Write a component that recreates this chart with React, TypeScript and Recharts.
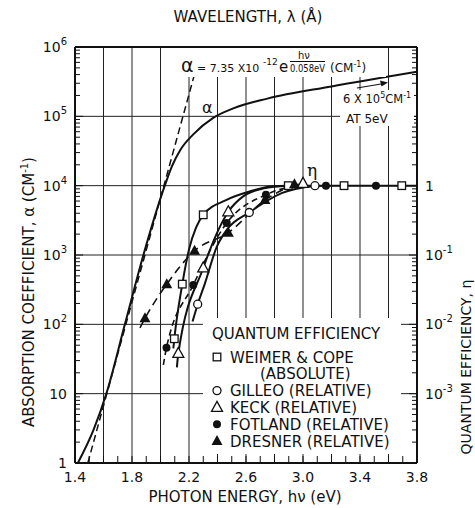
import React from 'react'
import { ComposedChart, Line, Scatter, XAxis, YAxis, ReferenceLine, Legend } from 'recharts'

const W = 475
const H = 508
const FONT = '"DejaVu Sans", sans-serif'
const INK = '#111'

// axis ticks
const energyLabels = [1.4, 1.8, 2.2, 2.6, 3.0, 3.4, 3.8]
const energyMinor = [
  1.4, 1.5, 1.6, 1.7, 1.8, 1.9, 2.0, 2.1, 2.2, 2.3, 2.4, 2.5, 2.6,
  2.7, 2.8, 2.9, 3.0, 3.1, 3.2, 3.3, 3.4, 3.5, 3.6, 3.7, 3.8,
]
const energyGrid = [1.6, 1.8, 2.0, 2.2, 2.4, 2.6, 2.8, 3.0, 3.2, 3.4, 3.6]
const wavelengths = [8000, 6000, 5000, 4000]
const alphaDecades = [1, 10, 100, 1e3, 1e4, 1e5, 1e6]
const alphaGrid = [10, 100, 1e3, 1e4, 1e5]
const etaDecades = [1e-4, 1e-3, 1e-2, 1e-1, 1, 10, 100]
const mantissas = [1, 2, 3, 4, 5, 6, 7, 8, 9]

// absorption coefficient (cm^-1) vs photon energy (eV)
const alphaCurve = [
  { x: 1.42, y: 1 }, { x: 1.53, y: 3 }, { x: 1.62, y: 10 }, { x: 1.75, y: 100 },
  { x: 1.88, y: 1000 }, { x: 2.03, y: 1e4 }, { x: 2.08, y: 1.9e4 }, { x: 2.14, y: 3.3e4 },
  { x: 2.23, y: 5.5e4 }, { x: 2.37, y: 9.5e4 }, { x: 2.51, y: 1.3e5 }, { x: 2.75, y: 1.8e5 },
  { x: 3.2, y: 2.7e5 }, { x: 3.8, y: 4.4e5 },
]
const alphaFit = [{ x: 1.49, y: 1 }, { x: 2.235, y: 3.8e5 }]

// quantum efficiency, measured points and drawn curves
const weimerPts = [
  { x: 2.097, y: 0.0062 }, { x: 2.153, y: 0.038 }, { x: 2.3, y: 0.38 },
  { x: 2.897, y: 1 }, { x: 3.288, y: 1 }, { x: 3.693, y: 1 },
]
const weimerCurve = [
  { x: 2.09, y: 0.0045 }, { x: 2.097, y: 0.0062 }, { x: 2.153, y: 0.038 }, { x: 2.2, y: 0.12 },
  { x: 2.25, y: 0.25 }, { x: 2.3, y: 0.38 }, { x: 2.46, y: 0.62 }, { x: 2.63, y: 0.83 },
  { x: 2.77, y: 0.97 }, { x: 2.897, y: 1 }, { x: 3.288, y: 1 }, { x: 3.693, y: 1 }, { x: 3.8, y: 1 },
]
const gilleoPts = [{ x: 2.261, y: 0.0195 }, { x: 2.623, y: 0.41 }, { x: 3.084, y: 1 }]
const gilleoCurve = [
  { x: 2.225, y: 0.011 }, { x: 2.261, y: 0.0195 }, { x: 2.312, y: 0.039 }, { x: 2.394, y: 0.13 },
  { x: 2.465, y: 0.23 }, { x: 2.623, y: 0.41 }, { x: 2.85, y: 0.78 }, { x: 3.084, y: 1 },
]
const keckPts = [{ x: 2.125, y: 0.0038 }, { x: 2.3, y: 0.065 }, { x: 2.476, y: 0.42 }, { x: 3.0, y: 1.08 }]
const keckCurve = [
  { x: 2.115, y: 0.0024 }, { x: 2.125, y: 0.0038 }, { x: 2.3, y: 0.065 }, { x: 2.476, y: 0.42 },
  { x: 2.58, y: 0.7 }, { x: 2.7, y: 0.89 }, { x: 2.886, y: 1 }, { x: 3.0, y: 1.05 },
]
const fotlandPts = [
  { x: 2.042, y: 0.0046 }, { x: 2.23, y: 0.037 }, { x: 2.465, y: 0.29 },
  { x: 2.74, y: 0.74 }, { x: 3.161, y: 1 }, { x: 3.512, y: 1 },
]
const fotlandCurve = [
  { x: 2.02, y: 0.0026 }, { x: 2.042, y: 0.0046 }, { x: 2.23, y: 0.037 }, { x: 2.465, y: 0.29 },
  { x: 2.74, y: 0.74 }, { x: 2.95, y: 0.97 }, { x: 3.161, y: 1 },
]
const dresnerPts = [
  { x: 1.891, y: 0.0122 }, { x: 2.044, y: 0.038 }, { x: 2.239, y: 0.115 },
  { x: 2.476, y: 0.21 }, { x: 2.733, y: 0.62 }, { x: 2.94, y: 1.05 },
]
const dresnerCurve = [{ x: 1.856, y: 0.0089 }, ...dresnerPts]

const isDecade = (v: number) => Math.abs(Math.log10(v) - Math.round(Math.log10(v))) < 1e-6
const logTicks = (decades: number[]) =>
  decades.flatMap((d, i) => (i === decades.length - 1 ? [d] : mantissas.map(m => m * d)))

function PowText({ x, y, exp, anchor }: { x: number; y: number; exp: number; anchor: 'start' | 'end' }) {
  return (
    <text x={x} y={y + 5} textAnchor={anchor} fontSize={14} fontFamily={FONT} fill={INK}>
      {exp === 0 ? '1' : exp === 1 ? '10' : (
        <>
          10<tspan dy={-7} fontSize={10}>{exp < 0 ? `-${-exp}` : exp}</tspan>
        </>
      )}
    </text>
  )
}

const LeftTick = (p: any) => {
  const v = p.payload.value
  const major = isDecade(v)
  return (
    <g>
      <line x1={p.x} x2={p.x + (major ? 8 : 5)} y1={p.y} y2={p.y} stroke={INK} />
      {major && <PowText x={p.x - 8} y={p.y} exp={Math.round(Math.log10(v))} anchor="end" />}
    </g>
  )
}

const RightTick = (p: any) => {
  const v = p.payload.value
  const major = isDecade(v)
  const exp = Math.round(Math.log10(v))
  return (
    <g>
      <line x1={p.x} x2={p.x - (major ? 8 : 5)} y1={p.y} y2={p.y} stroke={INK} />
      {major && exp >= -3 && exp <= 0 && <PowText x={p.x + 8} y={p.y} exp={exp} anchor="start" />}
    </g>
  )
}

const BottomTick = (p: any) => {
  const v = p.payload.value
  const labeled = energyLabels.some(l => Math.abs(l - v) < 1e-6)
  return (
    <g>
      <line x1={p.x} x2={p.x} y1={p.y} y2={p.y - 7} stroke={INK} />
      {labeled && (
        <text x={p.x} y={p.y + 19} textAnchor="middle" fontSize={14} fontFamily={FONT} fill={INK}>
          {v.toFixed(1)}
        </text>
      )}
    </g>
  )
}

const TopTick = (p: any) => (
  <g>
    <line x1={p.x} x2={p.x} y1={p.y} y2={p.y + 7} stroke={INK} />
    <text x={p.x} y={p.y - 8} textAnchor="middle" fontSize={14} fontFamily={FONT} fill={INK}>
      {wavelengths[p.index]}
    </text>
  </g>
)

const openSquare = (p: any) => <rect x={p.cx - 3.8} y={p.cy - 3.8} width={7.6} height={7.6} fill="#fff" stroke={INK} strokeWidth={1.3} />
const openCircle = (p: any) => <circle cx={p.cx} cy={p.cy} r={4} fill="#fff" stroke={INK} strokeWidth={1.3} />
const fillCircle = (p: any) => <circle cx={p.cx} cy={p.cy} r={4} fill={INK} />
const openTri = (p: any) => (
  <path d={`M${p.cx},${p.cy - 6} L${p.cx + 5.5},${p.cy + 4} L${p.cx - 5.5},${p.cy + 4} Z`} fill="#fff" stroke={INK} strokeWidth={1.3} />
)
const fillTri = (p: any) => (
  <path d={`M${p.cx},${p.cy - 6} L${p.cx + 5.5},${p.cy + 4} L${p.cx - 5.5},${p.cy + 4} Z`} fill={INK} />
)

const legendRows = [
  { shape: openSquare, label: 'WEIMER & COPE' },
  { shape: null, label: '(ABSOLUTE)' },
  { shape: openCircle, label: 'GILLEO (RELATIVE)' },
  { shape: openTri, label: 'KECK (RELATIVE)' },
  { shape: fillCircle, label: 'FOTLAND (RELATIVE)' },
  { shape: fillTri, label: 'DRESNER (RELATIVE)' },
]

function LegendBox() {
  return (
    <svg width={198} height={136} style={{ display: 'block', background: '#fff' }} fontFamily={FONT} fill={INK}>
      <text x={9} y={21} fontSize={15}>QUANTUM EFFICIENCY</text>
      {legendRows.map((r, i) => {
        const cy = 39 + i * 16.8
        return (
          <g key={r.label}>
            {r.shape && r.shape({ cx: 14, cy })}
            <text x={r.shape ? 27 : 57} y={cy + 5.5} fontSize={15}>{r.label}</text>
          </g>
        )
      })}
    </svg>
  )
}

const lineProps = { type: 'monotone' as const, dataKey: 'y', dot: false, stroke: INK, strokeWidth: 2, isAnimationActive: false }

export default function App() {
  return (
    <div style={{ position: 'fixed', left: 0, top: 0, width: W, height: H, background: '#fff' }}>
      <ComposedChart width={W} height={H} margin={{ top: 10, right: 10, bottom: 10, left: 10 }}>
        <XAxis xAxisId="e" dataKey="x" type="number" domain={[1.4, 3.8]} ticks={energyMinor}
          height={35} tick={BottomTick} tickSize={0} tickMargin={0} tickLine={false} interval={0}
          axisLine={{ stroke: INK, strokeWidth: 2 }} allowDataOverflow />
        <XAxis xAxisId="lam" orientation="top" type="number" domain={[1.4, 3.8]}
          ticks={wavelengths.map(l => 12398 / l)} height={37} tick={TopTick} tickSize={0} tickMargin={0}
          tickLine={false} interval={0} axisLine={{ stroke: INK, strokeWidth: 2 }} />
        <YAxis yAxisId="alpha" dataKey="y" type="number" scale="log" domain={[1, 1e6]} allowDataOverflow
          ticks={logTicks(alphaDecades)} width={65} tick={LeftTick} tickSize={0} tickMargin={0}
          tickLine={false} interval={0} axisLine={{ stroke: INK, strokeWidth: 2 }} />
        <YAxis yAxisId="eta" dataKey="y" orientation="right" type="number" scale="log" domain={[1e-4, 100]}
          allowDataOverflow ticks={logTicks(etaDecades)} width={48} tick={RightTick} tickSize={0}
          tickMargin={0} tickLine={false} interval={0} axisLine={{ stroke: INK, strokeWidth: 2 }} />

        {energyGrid.map(v => (
          <ReferenceLine key={`gx${v}`} xAxisId="e" yAxisId="alpha" x={v} stroke="#222" strokeWidth={1} />
        ))}
        {alphaGrid.map(v => (
          <ReferenceLine key={`gy${v}`} xAxisId="e" yAxisId="alpha" y={v} stroke="#222" strokeWidth={1} />
        ))}

        <Line {...lineProps} data={alphaCurve} xAxisId="e" yAxisId="alpha" />
        <Line {...lineProps} type="linear" data={alphaFit} xAxisId="e" yAxisId="alpha" strokeWidth={1.5} strokeDasharray="7 4" />

        <Line {...lineProps} data={weimerCurve} xAxisId="e" yAxisId="eta" />
        <Line {...lineProps} data={gilleoCurve} xAxisId="e" yAxisId="eta" />
        <Line {...lineProps} data={keckCurve} xAxisId="e" yAxisId="eta" />
        <Line {...lineProps} data={fotlandCurve} xAxisId="e" yAxisId="eta" strokeWidth={1.6} strokeDasharray="6 4" />
        <Line {...lineProps} data={dresnerCurve} xAxisId="e" yAxisId="eta" strokeWidth={1.6} strokeDasharray="8 5" />

        <Scatter data={weimerPts} xAxisId="e" yAxisId="eta" shape={openSquare} isAnimationActive={false} />
        <Scatter data={gilleoPts} xAxisId="e" yAxisId="eta" shape={openCircle} isAnimationActive={false} />
        <Scatter data={keckPts} xAxisId="e" yAxisId="eta" shape={openTri} isAnimationActive={false} />
        <Scatter data={fotlandPts} xAxisId="e" yAxisId="eta" shape={fillCircle} isAnimationActive={false} />
        <Scatter data={dresnerPts} xAxisId="e" yAxisId="eta" shape={fillTri} isAnimationActive={false} />

        <Legend layout="vertical" align="center" verticalAlign="middle" content={() => <LegendBox />}
          wrapperStyle={{ left: 203, top: 318, width: 198, height: 136 }} />
      </ComposedChart>

      <svg width={W} height={H} style={{ position: 'absolute', left: 0, top: 0, pointerEvents: 'none' }}
        fontFamily={FONT} fill={INK}>
        <text x={248} y={22} textAnchor="middle" fontSize={15}>WAVELENGTH, λ (Å)</text>
        <text x={245} y={502} textAnchor="middle" fontSize={15}>PHOTON ENERGY, hν (eV)</text>
        <text transform="translate(33.5,292) rotate(-90)" textAnchor="middle" fontSize={15}>
          ABSORPTION COEFFICIENT, α (CM<tspan dy={-6} fontSize={10}>-1</tspan><tspan dy={6}>)</tspan>
        </text>
        <text transform="translate(471,367) rotate(-90)" textAnchor="middle" fontSize={14}>QUANTUM EFFICIENCY, η</text>

        <rect x={180} y={48} width={206} height={29} fill="#fff" />
        <text x={181} y={72} fontSize={19}>α</text>
        <text x={197} y={72} fontSize={11}>= 7.35 X10</text>
        <text x={263} y={65} fontSize={9}>-12</text>
        <text x={279} y={72} fontSize={15}>e</text>
        <text x={298} y={59} fontSize={10}>hν</text>
        <line x1={290} x2={325} y1={61.5} y2={61.5} stroke={INK} strokeWidth={1.2} />
        <text x={290} y={72} fontSize={10} textLength={35} lengthAdjust="spacingAndGlyphs">0.058eV</text>
        <text x={330} y={72} fontSize={12}>(CM<tspan dy={-5} fontSize={8}>-1</tspan><tspan dy={5}>)</tspan></text>

        <rect x={340} y={90} width={74} height={36} fill="#fff" />
        <text x={343} y={103} fontSize={11.5}>6 X 10<tspan dy={-5} fontSize={8}>5</tspan><tspan dy={5}>CM</tspan><tspan dy={-5} fontSize={8}>-1</tspan></text>
        <text x={346} y={123} fontSize={12}>AT 5eV</text>
        <line x1={357} y1={88} x2={384} y2={83.5} stroke={INK} strokeWidth={1.2} />
        <path d="M388,82.5 L380,80.5 L381.5,86.5 Z" fill={INK} />

        <text x={202} y={113} fontSize={16}>α</text>
        <text x={307} y={176} fontSize={17} fontFamily='"DejaVu Serif", serif'>η</text>
      </svg>
    </div>
  )
}
